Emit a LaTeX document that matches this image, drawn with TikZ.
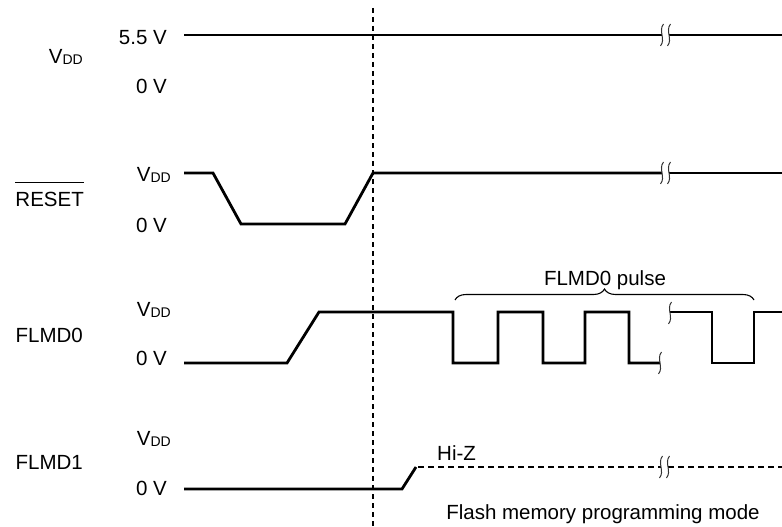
\documentclass[tikz,border=0pt]{standalone}
\usepackage{fontspec}
\setmainfont{Liberation Sans}
\usetikzlibrary{decorations.pathreplacing}
\newcommand{\vdd}{V\raisebox{-1pt}{\fontsize{14}{14}\selectfont DD}}

\begin{document}
\begin{tikzpicture}[
      x=1pt, y=-1pt,
      sig/.style={line width=2.8pt, line join=miter},
      hiz/.style={line width=2.6pt, dash pattern=on 6pt off 4pt},
      lvl/.style={anchor=base east, inner sep=0pt, font=\fontsize{20.5}{24}\selectfont},
      signame/.style={anchor=base east, inner sep=0pt, font=\fontsize{20.5}{24}\selectfont},
      note/.style={anchor=base, inner sep=0pt, font=\fontsize{20.5}{24}\selectfont},
      brk/.pic={\draw[line width=1pt, black!80] (1.5,-11) .. controls (-4,-4) and (4,4) .. (-1.5,11);}
    ]
    \useasboundingbox (0,0) rectangle (782,527);
    \node[signame] (vddname) at (83,64) {\vdd};
    \node[signame] (resetname) at (84,206) {RESET};
    \draw[line width=1pt] ([yshift=9pt]resetname.north west) -- ([yshift=9pt]resetname.north east);
    \node[signame] (flmd0name) at (83,342) {FLMD0};
    \node[signame] (flmd1name) at (83,469) {FLMD1};
    \node[lvl] (vddhi) at (167,45) {5.5 V};
    \node[lvl] (vddlo) at (167,93) {0 V};
    \node[lvl] (resethi) at (171,181) {\vdd};
    \node[lvl] (resetlo) at (167,232) {0 V};
    \node[lvl] (flmd0hi) at (171,316) {\vdd};
    \node[lvl] (flmd0lo) at (167,365) {0 V};
    \node[lvl] (flmd1hi) at (171,445) {\vdd};
    \node[lvl] (flmd1lo) at (167,495) {0 V};
    \draw[line width=1.1pt, dash pattern=on 5pt off 4pt] (373,8) -- (373,527);
    \draw[sig] (184,35) -- (662,35);
    \draw[sig] (669,35) -- (782,35);
    \pic at (662,35) {brk};
    \pic at (669,35) {brk};
    \draw[sig] (184,173) -- (213,173) -- (241,224) -- (345,224) -- (373,173) -- (662,173);
    \draw[sig] (669,173) -- (782,173);
    \pic at (662,173) {brk};
    \pic at (669,173) {brk};
    \draw[sig] (184,363) -- (287,363) -- (319,312) -- (453,312) -- (453,363) -- (498,363)
      -- (498,312) -- (543,312) -- (543,363) -- (585,363) -- (585,312) -- (629,312)
      -- (629,363) -- (660,363);
    \draw[sig] (670,312) -- (712,312) -- (712,363) -- (754,363) -- (754,312) -- (782,312);
    \pic at (660,363) {brk};
    \pic at (670,313) {brk};
    \draw[line width=1.1pt, decorate, decoration={brace, amplitude=11pt}] (455,300) -- (754,300);
    \node[note] (pulse) at (605,285) {FLMD0 pulse};
    \draw[sig] (184,489) -- (402,489) -- (416,467);
    \draw[hiz] (418,467) -- (661,467);
    \draw[hiz] (668,467) -- (782,467);
    \pic at (661,467) {brk};
    \pic at (668,467) {brk};
    \node[note, anchor=base west] (hiz) at (437,460) {Hi-Z};
    \node[note] (mode) at (603,519) {Flash memory programming mode};
  \end{tikzpicture}
\end{document}
